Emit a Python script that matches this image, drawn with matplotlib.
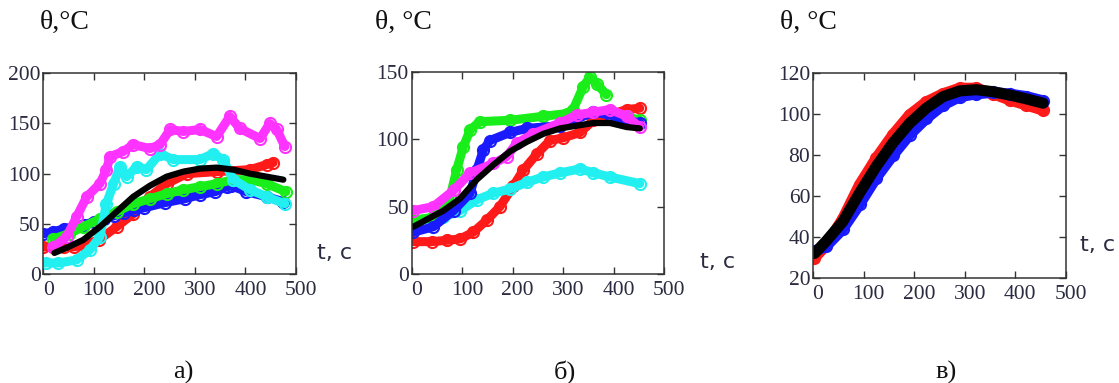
import matplotlib
matplotlib.use("Agg")
import matplotlib.pyplot as plt
import matplotlib.transforms as mtransforms
import numpy as np

# ---- panel a) ----
A_RED_T = [0, 20, 40, 60, 80, 110, 145, 178, 211, 244, 284, 343, 409, 442, 455]
A_RED = [27, 27, 27, 27, 29, 34, 47, 60, 77, 90, 100, 102, 104, 109, 111]
A_BLUE_T = [0, 20, 40, 60, 80, 100, 120, 140, 160, 180, 200, 240, 280, 310, 340, 363, 372, 402, 442, 475]
A_BLUE = [40, 42, 45, 47, 49, 52, 55, 58, 61, 64, 66, 71, 75, 79, 82, 87, 88, 82, 77, 72]
A_GREEN_T = [20, 50, 79, 112, 145, 178, 211, 244, 277, 310, 343, 376, 409, 442, 480]
A_GREEN = [35, 40, 47, 55, 62, 70, 75, 80, 84, 87, 90, 94, 94, 90, 82]
A_MAG_T = [20, 46, 66, 86, 112, 125, 132, 158, 178, 211, 231, 251, 277, 310, 343, 369,
           389, 429, 448, 462, 478]
A_MAG = [27, 37, 57, 77, 90, 104, 117, 122, 129, 125, 129, 144, 142, 144, 137, 157,
         145, 135, 150, 144, 127]
A_CYAN_T = [5, 30, 66, 92, 112, 125, 139, 152, 165, 185, 204, 231, 257, 310, 336, 356,
            376, 409, 442, 478]
A_CYAN = [11, 11, 14, 24, 37, 70, 90, 107, 97, 107, 104, 120, 114, 114, 120, 114,
          94, 84, 77, 70]
A_BLACK_T = [22, 50, 79, 112, 145, 178, 211, 244, 277, 310, 343, 376, 409, 442, 475]
A_BLACK = [21, 27, 34, 47, 62, 77, 88, 97, 102, 105, 106, 104, 100, 97, 94]

# ---- panel б) ----
B_RED_T = [3, 40, 70, 96, 122, 149, 175, 201, 221, 248, 274, 300, 334, 360, 400, 426, 452]
B_RED = [24, 24, 25, 26, 31, 40, 50, 65, 77, 89, 99, 101, 105, 114, 119, 122, 123]
B_BLUE_T = [3, 43, 83, 116, 129, 142, 155, 195, 228, 294, 360, 393, 426, 452]
B_BLUE = [31, 35, 47, 60, 77, 92, 99, 105, 108, 110, 120, 118, 114, 112]
B_GREEN_T = [3, 43, 76, 89, 102, 116, 135, 195, 261, 307, 320, 340, 353, 367, 386,
             388, 400, 426, 452]
B_GREEN = [40, 42, 57, 77, 94, 107, 113, 114, 117, 119, 122, 139, 146, 141, 133,
           np.nan, 118, 117, 114]
B_MAG_T = [3, 43, 83, 116, 162, 188, 208, 241, 294, 327, 360, 393, 426, 452]
B_MAG = [47, 50, 62, 75, 82, 87, 97, 104, 112, 118, 120, 122, 117, 109]
B_CYAN_T = [3, 63, 96, 129, 162, 195, 228, 261, 294, 334, 360, 393, 452]
B_CYAN = [39, 42, 47, 55, 60, 63, 68, 72, 75, 78, 75, 72, 67]
B_BLACK_T = [3, 63, 96, 129, 162, 195, 228, 261, 294, 327, 360, 393, 426, 452]
B_BLACK = [35, 47, 56, 70, 81, 91, 98, 104, 108, 110, 112, 112, 109, 108]

# ---- panel в) ----
C_T = [3, 26, 59, 92, 125, 158, 191, 224, 257, 290, 323, 356, 389, 422, 455]
C_RED = [29.8, 36, 49, 65.5, 78.5, 90, 99.7, 106, 110, 112.7, 112.7, 110, 107, 104.5, 102]
C_BLUE = [33, 35.5, 44, 56, 69, 80, 90, 98, 104.5, 108.6, 110, 110.7, 109.8, 108.6, 106.5]
C_BLACK = [32, 38, 47.6, 61.5, 74.5, 86, 95.6, 103, 108.6, 111.4, 112, 111, 109.4, 107.5, 105.4]

COLORS = {"red": "#ff1a1a", "blue": "#1a1aff", "green": "#1aee1a",
          "magenta": "#ff33ff", "cyan": "#22f0f0", "black": "#000000"}
TXT = "#2a2a40"

plt.rcParams["font.family"] = ["Liberation Serif", "DejaVu Serif"]

fig = plt.figure(figsize=(11.19, 3.83), dpi=100)


def band(ax, t, v, color, lw=6.5, markers=True):
    if markers:
        ax.plot(t, v, color=color, lw=lw, solid_capstyle="round", solid_joinstyle="round",
                marker="o", ms=8, mfc="none", mec=color, mew=1.5)
    else:
        ax.plot(t, v, color=color, lw=lw, solid_capstyle="round", solid_joinstyle="round")


def style(ax, ylim, yticks):
    ax.set_xlim(0, 500)
    ax.set_ylim(*ylim)
    ax.set_xticks([0, 100, 200, 300, 400, 500])
    ax.set_yticks(yticks)
    ax.tick_params(direction="in", top=True, right=True, length=5, width=1,
                   labelsize=15.5, labelcolor=TXT, color="#333333")
    ax.tick_params(axis="x", pad=5)
    ax.tick_params(axis="y", pad=2)
    # Mathcad puts the x labels slightly to the right of their ticks
    shift = mtransforms.ScaledTranslation(5 / 100, 0, fig.dpi_scale_trans)
    for lab in ax.get_xticklabels():
        lab.set_transform(lab.get_transform() + shift)
    for s in ax.spines.values():
        s.set_color("#333333")
        s.set_linewidth(1.1)


axa = fig.add_axes([0.0387, 0.2846, 0.2258, 0.524])
band(axa, A_RED_T, A_RED, COLORS["red"])
band(axa, A_BLUE_T, A_BLUE, COLORS["blue"])
band(axa, A_GREEN_T, A_GREEN, COLORS["green"])
band(axa, A_CYAN_T, A_CYAN, COLORS["cyan"])
band(axa, A_MAG_T, A_MAG, COLORS["magenta"])
band(axa, A_BLACK_T, A_BLACK, COLORS["black"], lw=4.5, markers=False)
style(axa, (0, 200), [0, 50, 100, 150, 200])

axb = fig.add_axes([0.3679, 0.2846, 0.2255, 0.528])
band(axb, B_RED_T, B_RED, COLORS["red"])
band(axb, B_CYAN_T, B_CYAN, COLORS["cyan"])
band(axb, B_GREEN_T, B_GREEN, COLORS["green"])
band(axb, B_BLUE_T, B_BLUE, COLORS["blue"])
band(axb, B_MAG_T, B_MAG, COLORS["magenta"])
band(axb, B_BLACK_T, B_BLACK, COLORS["black"], lw=4.5, markers=False)
style(axb, (0, 150), [0, 50, 100, 150])

axc = fig.add_axes([0.7265, 0.274, 0.2261, 0.5346])
band(axc, C_T, C_RED, COLORS["red"], lw=8)
band(axc, C_T, C_BLUE, COLORS["blue"], lw=8)
band(axc, C_T, C_BLACK, COLORS["black"], lw=8, markers=False)
style(axc, (20, 120), [20, 40, 60, 80, 100, 120])

# axis labels as free text, as in the source figure
for x, s in [(40, "θ,°C"), (375, "θ, °C"), (780, "θ, °C")]:
    fig.text(x / 1119, 1 - 22 / 383, s, fontsize=20, va="center", color="#111111")

for x, y in [(317, 253), (700, 262), (1080, 245)]:
    fig.text(x / 1119, 1 - y / 383, "t, с", fontsize=16, va="center", color=TXT,
             family="DejaVu Sans")

for x, s in [(183, "а)"), (565, "б)"), (946, "в)")]:
    fig.text(x / 1119, 1 - 372 / 383, s, fontsize=19, ha="center", va="center",
             color="#111111")

fig.savefig("out.png", dpi=100)
